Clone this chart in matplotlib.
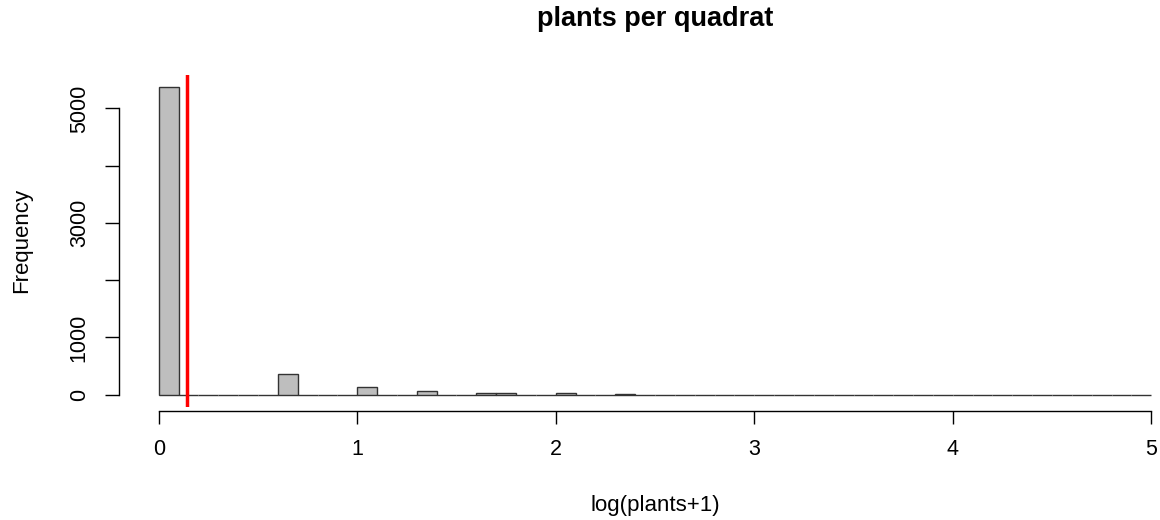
import numpy as np
import matplotlib
matplotlib.use('Agg')
import matplotlib.pyplot as plt

# histogram of log(plants+1), bin width 0.1 from 0 to 5
bin_width = 0.1
n_bins = 50
nonzero_bins = [0, 6, 10, 13, 16, 17, 20, 23]
nonzero_counts = [5370, 370, 140, 60, 30, 30, 22, 20]
mean_value = 0.145

x_ticks = [0, 1, 2, 3, 4, 5]
y_ticks = [0, 1000, 2000, 3000, 4000, 5000]
y_tick_labels = ['0', '1000', '', '3000', '', '5000']

counts = np.zeros(n_bins)
counts[nonzero_bins] = nonzero_counts
edges = np.arange(n_bins) * bin_width

plt.rcParams['font.family'] = ['Liberation Sans', 'DejaVu Sans']

fig = plt.figure(figsize=(11.6, 5.2), dpi=100)
ax = fig.add_axes([119 / 1160, 113 / 520, 1072 / 1160, 332 / 520])

ax.bar(edges, counts, width=bin_width, align='edge', color='#BEBEBE',
       edgecolor='#333333', linewidth=1.0)
ax.axvline(mean_value, color='#FF0000', linewidth=2.5)

ax.set_xlim(-0.2, 5.2)
ax.set_ylim(-215, 5585)

for side in ['top', 'right']:
    ax.spines[side].set_visible(False)

# R-style detached axes
ax.spines['left'].set_bounds(0, 5000)
ax.spines['bottom'].set_bounds(0, 5)
ax.spines['bottom'].set_position(('outward', 3))
ax.spines['left'].set_linewidth(1.0)
ax.spines['bottom'].set_linewidth(1.0)

ax.set_xticks(x_ticks)
ax.set_xticklabels([str(t) for t in x_ticks])
ax.set_yticks(y_ticks)
ax.set_yticklabels(y_tick_labels, rotation=90, va='center')
ax.tick_params(axis='x', length=9, pad=11)
ax.tick_params(axis='y', length=10, pad=11)
ax.tick_params(axis='both', width=1.0, labelsize=15.5, colors='black')

fig.text(655 / 1160, 1 - 506 / 520, 'log(plants+1)', ha='center',
         va='center', fontsize=16)
fig.text(22 / 1160, 1 - 240 / 520, 'Frequency', ha='center',
         va='center', fontsize=16, rotation=90)
fig.text(655 / 1160, 1 - 19 / 520, 'plants per quadrat', ha='center',
         va='center', fontsize=19.5, fontweight='bold')

fig.savefig('out.png', dpi=100)
